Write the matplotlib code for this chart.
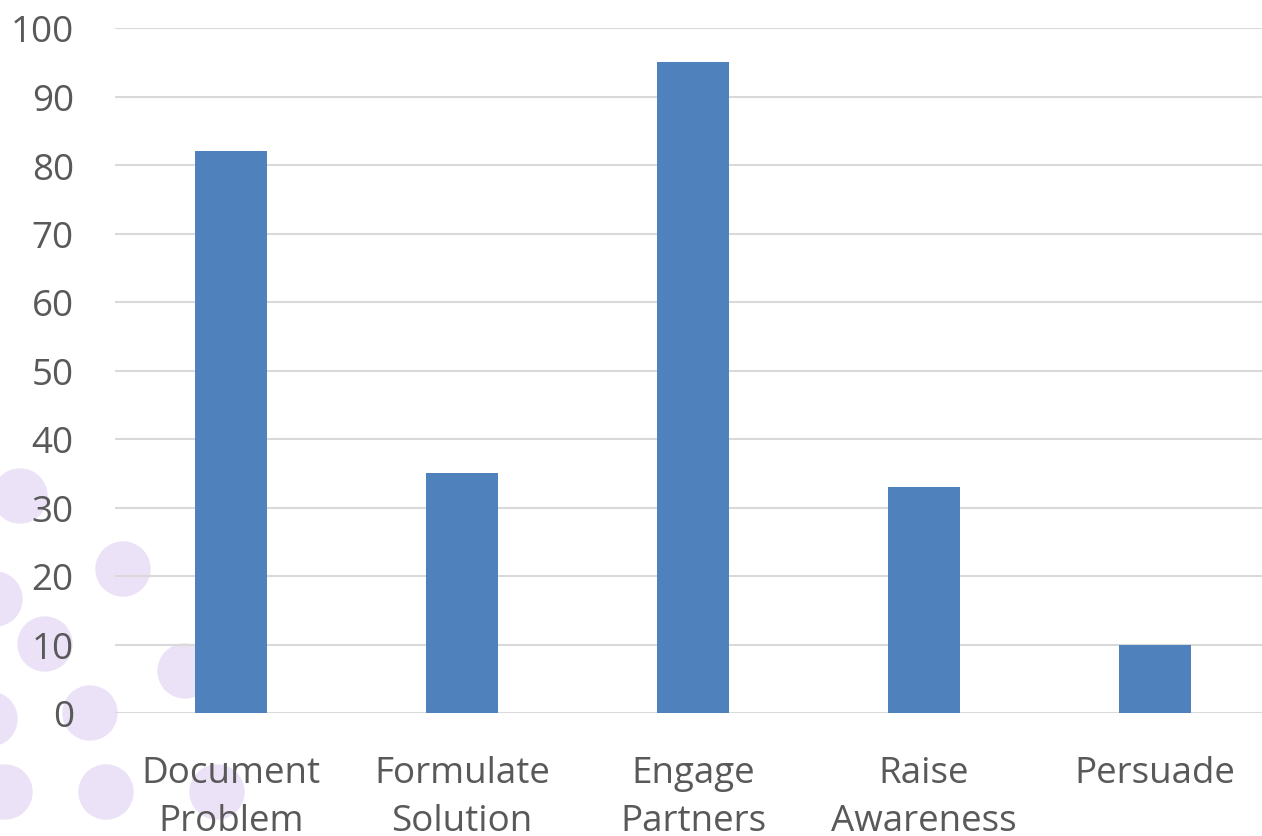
import matplotlib.pyplot as plt
from matplotlib.patches import Ellipse

# Chart data
categories = ["Document\nProblem", "Formulate\nSolution", "Engage\nPartners",
              "Raise\nAwareness", "Persuade"]
values = [82, 35, 95, 33, 10]
y_ticks = [0, 10, 20, 30, 40, 50, 60, 70, 80, 90, 100]

# Decorative background dots (pixel centres)
dot_x = [20, 123, -5, 45, 185, 90, -10, 5, 106, 217]
dot_y = [497, 570, 600, 645, 672, 714, 720, 793, 793, 793]
DOT_R = 27

W, H = 1262, 837
BAR_COLOR = "#4f81bd"
TEXT_COLOR = "#595959"
GRID_COLOR = "#d9d9d9"

plt.rcParams["font.family"] = ["Open Sans", "DejaVu Sans"]

fig = plt.figure(figsize=(W / 100, H / 100), dpi=100)
for x, y in zip(dot_x, dot_y):
    fig.add_artist(Ellipse((x / W, 1 - y / H), 2 * DOT_R / W, 2 * DOT_R / H,
                           color="#ece2f7", zorder=0))

ax = fig.add_axes([115.5 / W, 123 / H, 1155 / W, 685 / H])
ax.patch.set_alpha(0)
ax.bar(range(len(values)), values, width=0.31, color=BAR_COLOR, zorder=3)

ax.set_xlim(-0.5, len(values) - 0.5)
ax.set_ylim(0, 100)
ax.set_yticks(y_ticks)
ax.set_xticks(range(len(categories)))
ax.set_xticklabels(categories, linespacing=1.45)
ax.tick_params(axis="both", length=0, labelsize=26.5, colors=TEXT_COLOR)
ax.tick_params(axis="y", pad=30)
ax.tick_params(axis="x", pad=30)
ax.grid(axis="y", color=GRID_COLOR, linewidth=1.5, zorder=0)
for s in ax.spines.values():
    s.set_visible(False)

fig.savefig("out.png", dpi=100)
